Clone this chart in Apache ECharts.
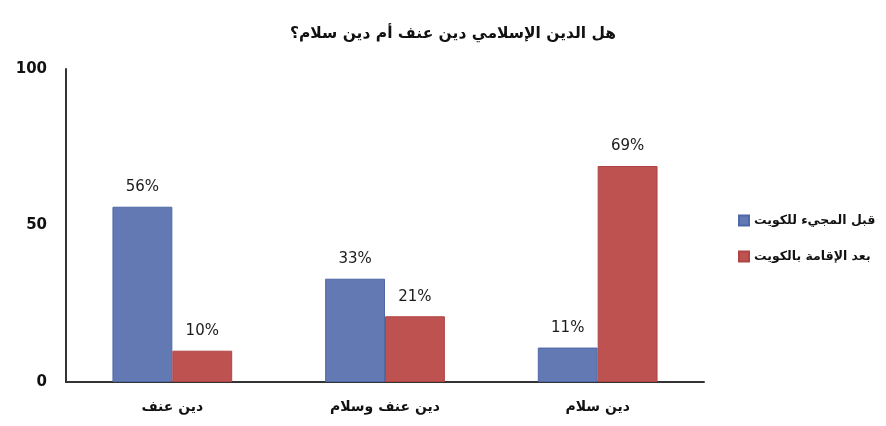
<!DOCTYPE html>
<html><head><meta charset="utf-8">
<script src="https://cdn.jsdelivr.net/npm/echarts@6/dist/echarts.min.js"></script>
<style>html,body{margin:0;padding:0;background:#fff}#c{width:886px;height:426px}</style>
</head><body><div id="c"></div>
<script>
var titleText = 'هل الدين الإسلامي دين عنف أم دين سلام؟';
var categories = ['دين عنف', 'دين عنف وسلام', 'دين سلام'];
var seriesNames = ['قبل المجيء للكويت', 'بعد الإقامة بالكويت'];
var beforeValues = [56, 33, 11];
var afterValues = [10, 21, 69];
var yTicks = [0, 50, 100];

var font = 'DejaVu Sans';
var chart = echarts.init(document.getElementById('c'));
chart.setOption({
  animation: false,
  textStyle: {fontFamily: font},
  title: {text: titleText, left: 448, top: 21, textAlign: 'center',
    textStyle: {fontFamily: font, fontSize: 15.5, fontWeight: 'bold', color: '#111'}},
  grid: {left: 66, right: 182, top: 69, bottom: 44},
  legend: {orient: 'vertical', left: 733, top: 209, itemWidth: 10, itemHeight: 10, itemGap: 23,
    icon: 'rect', textStyle: {fontFamily: font, fontSize: 12.5, fontWeight: 'bold', color: '#111'},
    data: seriesNames},
  xAxis: {type: 'category', data: categories,
    axisLine: {lineStyle: {color: '#333', width: 2}}, axisTick: {show: false},
    axisLabel: {fontFamily: font, fontSize: 14, fontWeight: 'bold', color: '#111', margin: 18}},
  yAxis: {type: 'value', min: yTicks[0], max: yTicks[yTicks.length - 1], interval: 50,
    splitLine: {show: false}, axisTick: {show: false},
    axisLine: {show: true, lineStyle: {color: '#333', width: 2}},
    axisLabel: {fontFamily: font, fontSize: 15, fontWeight: 'bold', color: '#111', margin: 19}},
  series: [
    {name: seriesNames[0], type: 'bar', data: beforeValues, barGap: '0%', barCategoryGap: '43.7%',
      itemStyle: {color: '#6279b3', borderColor: '#4f68a6', borderWidth: 1},
      label: {show: true, position: 'top', distance: 12, formatter: '{c}%', fontFamily: font, fontSize: 15, color: '#1a1a1a'}},
    {name: seriesNames[1], type: 'bar', data: afterValues,
      itemStyle: {color: '#bd5250', borderColor: '#b04644', borderWidth: 1},
      label: {show: true, position: 'top', distance: 12, formatter: '{c}%', fontFamily: font, fontSize: 15, color: '#1a1a1a'}}
  ]
});
</script></body></html>
